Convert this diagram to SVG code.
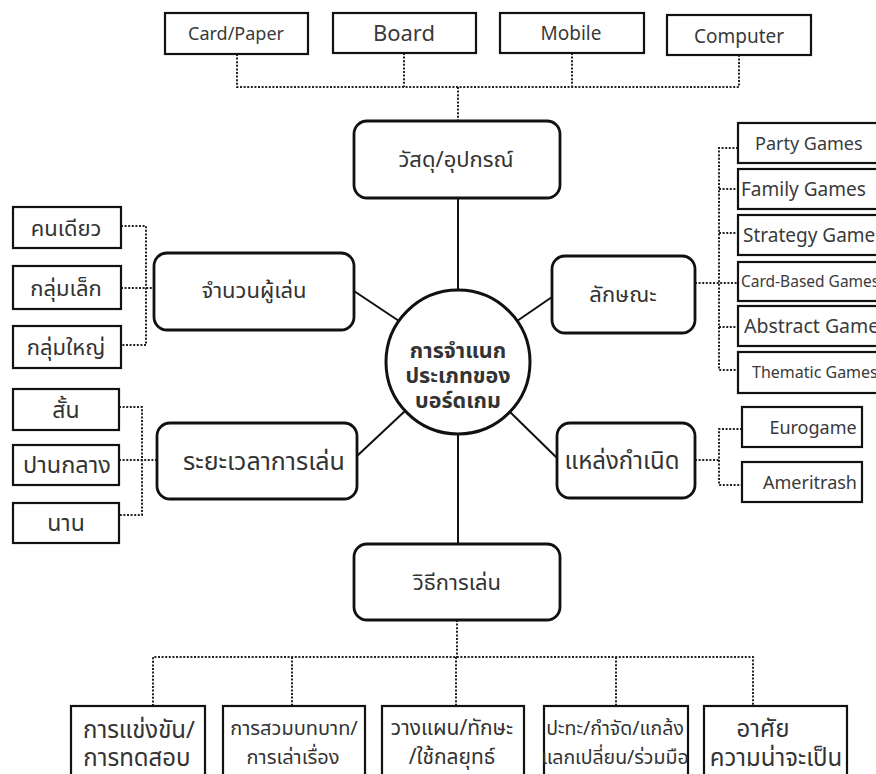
<svg xmlns="http://www.w3.org/2000/svg" width="876" height="774" viewBox="0 0 876 774">
<style>
.bx{fill:#fff;stroke:#111;stroke-width:2.2}
.rb{fill:#fff;stroke:#111;stroke-width:2.8}
.sl{stroke:#111;stroke-width:2;fill:none}
.dl{stroke:#222;stroke-width:2;fill:none;stroke-dasharray:2 1.6}
.t{font-family:"Noto Sans","Noto Sans Thai","DejaVu Sans",sans-serif;fill:#3a3a3a;text-anchor:middle}
.ts{font-family:"Noto Sans","Noto Sans Thai","DejaVu Sans",sans-serif;fill:#3a3a3a;text-anchor:start}
.th{font-family:"Noto Sans Thai","Noto Sans","DejaVu Sans",sans-serif;fill:#333;text-anchor:middle}
</style>
<rect width="876" height="774" fill="#fff"/>
<g id="connectors">
<polyline class="dl" points="237,54 237,87 739,87 739,55"/>
<line class="dl" x1="404" y1="53" x2="404" y2="87"/>
<line class="dl" x1="572" y1="53" x2="572" y2="87"/>
<line class="dl" x1="458" y1="87" x2="458" y2="120"/>
<line class="sl" x1="458" y1="198" x2="458" y2="290"/>
<line class="sl" x1="458" y1="434" x2="458" y2="544"/>
<line class="sl" x1="354" y1="291" x2="399" y2="321"/>
<line class="sl" x1="552" y1="297" x2="517" y2="321"/>
<line class="sl" x1="357" y1="456" x2="405" y2="411"/>
<line class="sl" x1="557" y1="458" x2="510" y2="412"/>
<polyline class="dl" points="121,226 146,226 146,345 121,345"/>
<polyline class="dl" points="121,288 154,288"/>
<polyline class="dl" points="119,407 142,407 142,515 119,515"/>
<polyline class="dl" points="119,460 157,460"/>
<polyline class="dl" points="738,148 719,148 719,370 738,370"/>
<line class="dl" x1="719" y1="189" x2="738" y2="189"/>
<line class="dl" x1="719" y1="233" x2="738" y2="233"/>
<line class="dl" x1="695" y1="283" x2="738" y2="283"/>
<line class="dl" x1="719" y1="327" x2="738" y2="327"/>
<polyline class="dl" points="742,429 719,429 719,485 742,485"/>
<line class="dl" x1="695" y1="460" x2="719" y2="460"/>
<line class="dl" x1="457" y1="620" x2="457" y2="657"/>
<polyline class="dl" points="153,706 153,657 753,657 753,706"/>
<line class="dl" x1="292" y1="657" x2="292" y2="706"/>
<line class="dl" x1="456" y1="657" x2="456" y2="706"/>
<line class="dl" x1="616" y1="657" x2="616" y2="706"/>
</g>
<g id="card-paper"><rect class="bx" x="165" y="13" width="143" height="41"/><text class="t" x="236" y="40" font-size="18">Card/Paper</text></g>
<g id="board"><rect class="bx" x="333" y="13" width="143" height="40"/><text class="t" x="404" y="41" font-size="22">Board</text></g>
<g id="mobile"><rect class="bx" x="500" y="13" width="144" height="40"/><text class="t" x="571" y="40" font-size="19">Mobile</text></g>
<g id="computer"><rect class="bx" x="667" y="15" width="144" height="40"/><text class="t" x="739" y="43" font-size="19">Computer</text></g>
<g id="material"><rect class="rb" x="354" y="121" width="206" height="77" rx="13"/><text class="th" x="456" y="167" font-size="22">วัสดุ/อุปกรณ์</text></g>
<g id="center"><circle cx="458" cy="362" r="72" fill="#fff" stroke="#111" stroke-width="3"/>
<text class="th" x="458" y="358" font-size="21.5" font-weight="bold" fill="#111">การจำแนก</text>
<text class="th" x="458" y="383" font-size="21.5" font-weight="bold" fill="#111">ประเภทของ</text>
<text class="th" x="458" y="408" font-size="21.5" font-weight="bold" fill="#111">บอร์ดเกม</text></g>
<g id="players"><rect class="rb" x="154" y="253" width="200" height="77" rx="13"/><text class="th" x="254" y="298" font-size="22">จำนวนผู้เล่น</text></g>
<g id="solo"><rect class="bx" x="13" y="207" width="108" height="41"/><text class="th" x="66" y="236" font-size="22">คนเดียว</text></g>
<g id="small-group"><rect class="bx" x="13" y="266" width="108" height="43"/><text class="th" x="66" y="296" font-size="22">กลุ่มเล็ก</text></g>
<g id="large-group"><rect class="bx" x="13" y="326" width="108" height="42"/><text class="th" x="66" y="355" font-size="22">กลุ่มใหญ่</text></g>
<g id="duration"><rect class="rb" x="157" y="423" width="200" height="76" rx="13"/><text class="th" x="264" y="470" font-size="25">ระยะเวลาการเล่น</text></g>
<g id="short"><rect class="bx" x="13" y="389" width="106" height="41"/><text class="th" x="66" y="418" font-size="23">สั้น</text></g>
<g id="medium"><rect class="bx" x="13" y="445" width="106" height="40"/><text class="th" x="67" y="473" font-size="23.5">ปานกลาง</text></g>
<g id="long"><rect class="bx" x="13" y="503" width="106" height="40"/><text class="th" x="66" y="531" font-size="23">นาน</text></g>
<g id="character"><rect class="rb" x="552" y="256" width="143" height="77" rx="13"/><text class="th" x="623" y="302" font-size="22">ลักษณะ</text></g>
<g id="party"><rect class="bx" x="738" y="123" width="145" height="40"/><text class="ts" x="755" y="150" font-size="18">Party Games</text></g>
<g id="family"><rect class="bx" x="738" y="169" width="145" height="40"/><text class="ts" x="741" y="196" font-size="19">Family Games</text></g>
<g id="strategy"><rect class="bx" x="738" y="215" width="145" height="40"/><text class="ts" x="743" y="242" font-size="19">Strategy Games</text></g>
<g id="cardbased"><rect class="bx" x="738" y="262" width="145" height="39"/><text class="ts" x="741" y="287" font-size="15.5">Card-Based Games</text></g>
<g id="abstract"><rect class="bx" x="738" y="306" width="145" height="40"/><text class="ts" x="744" y="333" font-size="19.5">Abstract Games</text></g>
<g id="thematic"><rect class="bx" x="738" y="352" width="145" height="41"/><text class="ts" x="752" y="378" font-size="16">Thematic Games</text></g>
<g id="origin"><rect class="rb" x="557" y="423" width="138" height="75" rx="13"/><text class="th" x="622" y="469" font-size="24">แหล่งกำเนิด</text></g>
<g id="eurogame"><rect class="bx" x="742" y="407" width="120" height="40"/><text class="t" x="813" y="434" font-size="18">Eurogame</text></g>
<g id="ameritrash"><rect class="bx" x="742" y="462" width="120" height="40"/><text class="t" x="810" y="489" font-size="18">Ameritrash</text></g>
<g id="method"><rect class="rb" x="354" y="544" width="206" height="76" rx="13"/><text class="th" x="457" y="590" font-size="22">วิธีการเล่น</text></g>
<g id="compete"><rect class="bx" x="71" y="706" width="134" height="80"/><text class="th" x="139" y="738" font-size="24">การแข่งขัน/</text><text class="th" x="137" y="766" font-size="24">การทดสอบ</text></g>
<g id="roleplay"><rect class="bx" x="223" y="706" width="142" height="80"/><text class="th" x="294" y="735" font-size="20">การสวมบทบาท/</text><text class="th" x="293" y="764" font-size="20">การเล่าเรื่อง</text></g>
<g id="plan"><rect class="bx" x="382" y="706" width="142" height="80"/><text class="th" x="452" y="735" font-size="21">วางแผน/ทักษะ</text><text class="th" x="452" y="764" font-size="21">/ใช้กลยุทธ์</text></g>
<g id="clash"><rect class="bx" x="544" y="706" width="144" height="80"/><text class="th" x="615" y="735" font-size="19.5">ปะทะ/กำจัด/แกล้ง</text><text class="th" x="615" y="764" font-size="19.5">แลกเปลี่ยน/ร่วมมือ</text></g>
<g id="chance"><rect class="bx" x="704" y="706" width="143" height="80"/><text class="th" x="763" y="737" font-size="24">อาศัย</text><text class="th" x="776" y="766" font-size="24">ความน่าจะเป็น</text></g>
</svg>
